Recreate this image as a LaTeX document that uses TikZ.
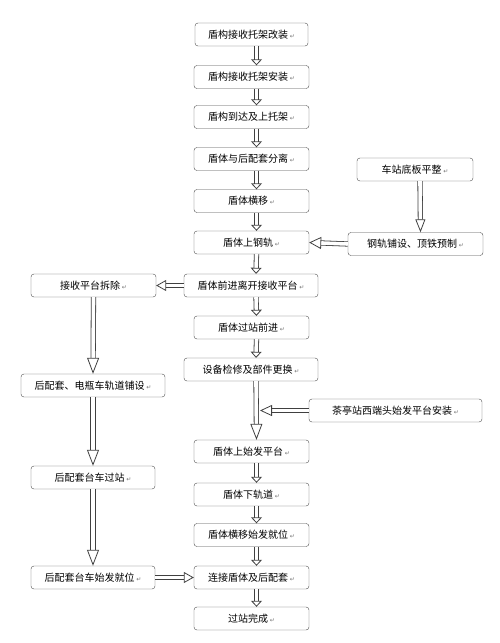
\documentclass[tikz,border=0pt]{standalone}
\usepackage{fontspec}
\newfontfamily\cjk{Noto Sans CJK SC}
\newfontfamily\symf{DejaVu Sans}
\usetikzlibrary{arrows.meta}
\newcommand{\rmk}{\,{\symf\fontsize{6}{6}\selectfont\textcolor{black!55}{↵}}}

\begin{document}
\begin{tikzpicture}[x=1pt, y=-1pt,
  box/.style={draw=black!70, rounded corners=3pt, minimum height=23pt, inner sep=1pt, text=black, font=\cjk\fontsize{10}{12}\selectfont},
  blk/.style={draw=black!75, double=white, double distance=3.6pt, line width=0.8pt, -{Triangle[open, length=6pt, width=11pt]}},
  lng/.style={-{Triangle[open, length=16pt, width=12pt]}}]
\useasboundingbox (0,0) rectangle (500,643);
% main column
\node[box, minimum width=113pt] (b1) at (251.5,34.5) {盾构接收托架改装\rmk};
\node[box, minimum width=115pt] (b2) at (251.5,77) {盾构接收托架安装\rmk};
\node[box, minimum width=115pt] (b3) at (251.5,117) {盾构到达及上托架\rmk};
\node[box, minimum width=115pt] (b4) at (251.5,159) {盾体与后配套分离\rmk};
\node[box, minimum width=115pt] (b5) at (251.5,201) {盾体横移\rmk};
\node[box, minimum width=115pt] (b6) at (251.5,242.5) {盾体上钢轨\rmk};
\node[box, minimum width=134pt] (b7) at (251,285.5) {盾体前进离开接收平台\rmk};
\node[box, minimum width=115pt] (b8) at (251.5,327.5) {盾体过站前进\rmk};
\node[box, minimum width=134pt] (b9) at (251,369.5) {设备检修及部件更换\rmk};
\node[box, minimum width=115pt] (b10) at (251.5,451.5) {盾体上始发平台\rmk};
\node[box, minimum width=115pt] (b11) at (251.5,494.5) {盾体下轨道\rmk};
\node[box, minimum width=115pt] (b12) at (251.5,535) {盾体横移始发就位\rmk};
\node[box, minimum width=115pt] (b13) at (251.5,577.5) {连接盾体及后配套\rmk};
\node[box, minimum width=115pt] (b14) at (251.5,618.5) {过站完成\rmk};
% left column
\node[box, minimum width=125pt] (l1) at (93.5,285.5) {接收平台拆除\rmk};
\node[box, minimum width=144pt] (l2) at (93,385.5) {后配套、电瓶车轨道铺设\rmk};
\node[box, minimum width=124pt] (l3) at (93,477.5) {后配套台车过站\rmk};
\node[box, minimum width=124pt] (l4) at (93,577.5) {后配套台车始发就位\rmk};
% right column
\node[box, minimum width=116pt] (r1) at (415,169.5) {车站底板平整\rmk};
\node[box, minimum width=135pt] (r2) at (415.5,244) {钢轨铺设、顶铁预制\rmk};
\node[box, minimum width=173pt] (r3) at (395.5,410.5) {茶亭站西端头始发平台安装\rmk};
% arrows
\foreach \a/\b in {b1/b2,b2/b3,b3/b4,b4/b5,b5/b6,b6/b7,b7/b8,b8/b9,b10/b11,b11/b12,b12/b13,b13/b14}
  \draw[blk] ([xshift=5pt]\a.south) -- ([xshift=5pt]\b.north);
\draw[blk, lng] ([xshift=5pt]b9.south) -- ([xshift=5pt]b10.north);
\foreach \a/\b in {l1/l2,l2/l3,l3/l4}
  \draw[blk, lng] (\a.south) -- (\b.north);
\draw[blk, -{Triangle[open, length=13pt, width=10pt]}] ([xshift=5pt]r1.south) -- ([xshift=5pt]r2.north);
\draw[blk, -{Triangle[open, length=12pt, width=12pt]}] (r2.west) -- (b6.east);
\draw[blk, -{Triangle[open, length=10pt, width=11pt]}] (b7.west) -- (l1.east);
\draw[blk, -{Triangle[open, length=12pt, width=11pt]}] (r3.west) -- ([xshift=9pt]b9.south |- r3.west);
\draw[blk, -{Triangle[open, length=10pt, width=11pt]}] (l4.east) -- (b13.west);
\end{tikzpicture}
\end{document}
